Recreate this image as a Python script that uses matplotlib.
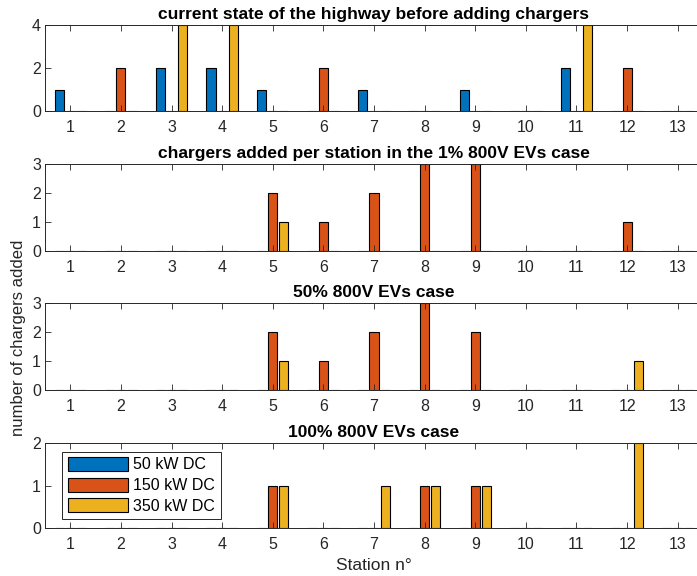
import matplotlib.pyplot as plt
import numpy as np

plt.rcParams['font.family'] = ['Liberation Sans', 'DejaVu Sans']

stations = np.arange(1, 14)
labels = ['50 kW DC', '150 kW DC', '350 kW DC']
colors = ['#0072BD', '#D95319', '#EDB120']

titles = ['current state of the highway before adding chargers',
          'chargers added per station in the 1% 800V EVs case',
          '50% 800V EVs case',
          '100% 800V EVs case']

# [50 kW, 150 kW, 350 kW] per station 1..13
current_50 = [1, 0, 2, 2, 1, 0, 1, 0, 1, 0, 2, 0, 0]
current_150 = [0, 2, 0, 0, 0, 2, 0, 0, 0, 0, 0, 2, 0]
current_350 = [0, 0, 4, 4, 0, 0, 0, 0, 0, 0, 4, 0, 0]

case1_50 = [0] * 13
case1_150 = [0, 0, 0, 0, 2, 1, 2, 3, 3, 0, 0, 1, 0]
case1_350 = [0, 0, 0, 0, 1, 0, 0, 0, 0, 0, 0, 0, 0]

case50_50 = [0] * 13
case50_150 = [0, 0, 0, 0, 2, 1, 2, 3, 2, 0, 0, 0, 0]
case50_350 = [0, 0, 0, 0, 1, 0, 0, 0, 0, 0, 0, 1, 0]

case100_50 = [0] * 13
case100_150 = [0, 0, 0, 0, 1, 0, 0, 1, 1, 0, 0, 0, 0]
case100_350 = [0, 0, 0, 0, 1, 0, 1, 1, 1, 0, 0, 2, 0]

panels = [(current_50, current_150, current_350),
          (case1_50, case1_150, case1_350),
          (case50_50, case50_150, case50_350),
          (case100_50, case100_150, case100_350)]
ymax = [4, 3, 3, 2]
yticks = [[0, 2, 4], [0, 1, 2, 3], [0, 1, 2, 3], [0, 1, 2]]

W, H = 697, 576
fig = plt.figure(figsize=(W / 100, H / 100), dpi=100)

# top/bottom pixel rows of each panel
rows = [(25, 111), (164, 251), (303, 390), (443, 528)]
left_px, right_px = 45, 703

offsets = [-0.22, 0.0, 0.22]
bw = 0.18
axc = '#262626'

for i, (series, (top, bot)) in enumerate(zip(panels, rows)):
    ax = fig.add_axes([left_px / W, 1 - bot / H, (right_px - left_px) / W, (bot - top) / H])
    for k, vals in enumerate(series):
        ax.bar(stations + offsets[k], vals, bw, color=colors[k],
               edgecolor='black', linewidth=0.8, label=labels[k])
    ax.set_xlim(0.5, 13.5)
    ax.set_ylim(0, ymax[i])
    ax.set_xticks(stations)
    ax.set_yticks(yticks[i])
    ax.tick_params(direction='in', top=True, right=True, length=4, width=0.6,
                   color=axc, labelcolor=axc, labelsize=11.5)
    ax.tick_params(axis='x', pad=6.5)
    ax.tick_params(axis='y', pad=3)
    for s in ax.spines.values():
        s.set_color(axc)
        s.set_linewidth(0.7)
    ax.set_title(titles[i], fontsize=12.5, fontweight='bold', pad=4.5)
    if i == 3:
        ax.set_xlabel('Station n°', fontsize=12.5, color=axc, labelpad=4)
        leg = ax.legend(loc='upper left', bbox_to_anchor=(0.026, 0.9), fontsize=11.5,
                        handlelength=3.8, handleheight=0.95, handletextpad=0.3,
                        labelspacing=0.33, borderpad=0.35, borderaxespad=0,
                        fancybox=False, edgecolor=axc, framealpha=1)
        leg.get_frame().set_linewidth(0.7)

fig.text(19 / W, 1 - 338 / H, 'number of chargers added', rotation=90, ha='center',
         va='center', fontsize=12, color=axc)

fig.savefig('out.png', dpi=100)
